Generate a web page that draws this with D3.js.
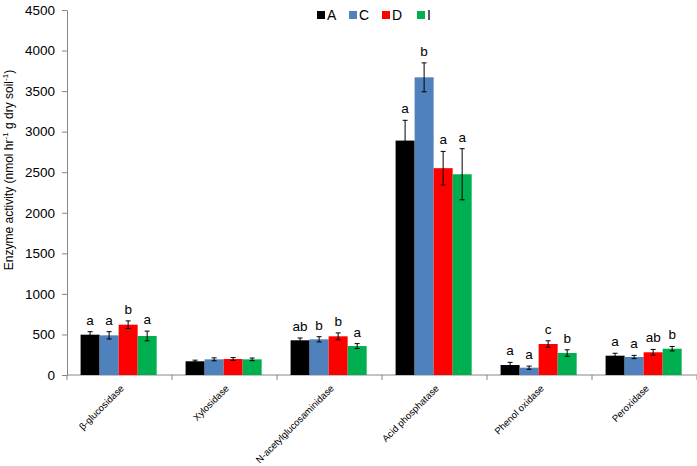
<!DOCTYPE html>
<html>
<head>
<meta charset="utf-8">
<script src="https://cdn.jsdelivr.net/npm/d3@7"></script>
<style>
  body { margin: 0; background: #fff; }
  text { font-family: "Liberation Sans", Arial, sans-serif; }
</style>
</head>
<body>
<div id="chart"></div>
<script>
// categories and treatment series
const enzymes = ["β-glucosidase", "Xylosidase", "N-acetylglucosaminidase", "Acid phosphatase", "Phenol oxidase", "Peroxidase"];
const treatments = ["A", "C", "D", "I"];
const colors = ["#000000", "#4f81bd", "#ff0000", "#00b050"];

// mean values per treatment (same order as enzymes)
const valA = [497, 169, 428, 2890, 123, 238];
const valC = [489, 193, 440, 3670, 90, 222];
const valD = [620, 197, 477, 2550, 382, 280];
const valI = [481, 193, 357, 2475, 271, 324];

// standard errors
const errA = [37, 14, 28, 250, 33, 30];
const errC = [45, 18, 32, 178, 20, 20];
const errD = [47, 18, 42, 207, 40, 35];
const errI = [60, 16, 30, 315, 40, 28];

// significance letters
const sigA = ["a", "", "ab", "a", "a", "a"];
const sigC = ["a", "", "b", "b", "a", "a"];
const sigD = ["b", "", "b", "a", "c", "ab"];
const sigI = ["a", "", "a", "a", "b", "b"];

const yTicks = [0, 500, 1000, 1500, 2000, 2500, 3000, 3500, 4000, 4500];

const width = 697, height = 466;
const margin = { top: 10, right: 0, bottom: 91, left: 67 };

const series = [
  { name: "A", vals: valA, errs: errA, sig: sigA },
  { name: "C", vals: valC, errs: errC, sig: sigC },
  { name: "D", vals: valD, errs: errD, sig: sigD },
  { name: "I", vals: valI, errs: errI, sig: sigI }
];

const svg = d3.select("#chart").append("svg")
  .attr("width", width)
  .attr("height", height);

const x0 = d3.scaleBand()
  .domain(enzymes)
  .range([margin.left, width - margin.right]);

const x1 = d3.scaleBand()
  .domain(treatments)
  .range([0, x0.bandwidth()])
  .paddingInner(0)
  .paddingOuter(0.76)
  .align(0.47);

const y = d3.scaleLinear()
  .domain([0, 4500])
  .range([height - margin.bottom, margin.top]);

const axisColor = "#868686";

// y axis
const yAxis = svg.append("g")
  .attr("transform", `translate(${margin.left},0)`)
  .call(d3.axisLeft(y).tickValues(yTicks).tickFormat(d3.format("d"))
    .tickSize(5).tickPadding(7).tickSizeOuter(0));
yAxis.select(".domain").attr("stroke", axisColor);
yAxis.selectAll(".tick line").attr("stroke", axisColor);
yAxis.selectAll(".tick text").attr("font-size", 13.5).attr("fill", "#000")
  .attr("font-family", "Liberation Sans, Arial, sans-serif");

// y axis title
const title = svg.append("text")
  .attr("transform", `translate(13,170) rotate(-90)`)
  .attr("text-anchor", "middle")
  .attr("font-size", 12)
  .attr("fill", "#000");
title.append("tspan").text("Enzyme activity (nmol hr");
title.append("tspan").attr("dy", -5).attr("font-size", 8).text("-1");
title.append("tspan").attr("dy", 5).text(" g dry soil");
title.append("tspan").attr("dy", -5).attr("font-size", 8).text("-1");
title.append("tspan").attr("dy", 5).text(")");

// x axis
const baseY = y(0);
svg.append("line")
  .attr("x1", margin.left).attr("x2", width - margin.right)
  .attr("y1", baseY).attr("y2", baseY)
  .attr("stroke", axisColor);
const boundaries = enzymes.map(d => x0(d)).concat([x0(enzymes[enzymes.length - 1]) + x0.bandwidth()]);
svg.selectAll(".xtick")
  .data(boundaries)
  .join("line")
  .attr("class", "xtick")
  .attr("x1", d => d).attr("x2", d => d)
  .attr("y1", baseY).attr("y2", baseY + 5)
  .attr("stroke", axisColor);

svg.selectAll(".xlabel")
  .data(enzymes)
  .join("text")
  .attr("class", "xlabel")
  .attr("text-anchor", "end")
  .attr("font-size", 9.5)
  .attr("fill", "#000")
  .attr("transform", d => `translate(${x0(d) + x0.bandwidth() / 2 + 5},${baseY + 14}) rotate(-45)`)
  .text(d => d);

series.forEach((s, si) => {
  const rows = enzymes.map((e, i) => ({ e, v: s.vals[i], err: s.errs[i], sig: s.sig[i], i }));

  // bars
  svg.selectAll(".bar-" + s.name)
    .data(rows)
    .join("rect")
    .attr("class", "bar-" + s.name)
    .attr("x", d => x0(d.e) + x1(s.name))
    .attr("y", d => y(d.v))
    .attr("width", x1.bandwidth())
    .attr("height", d => y(0) - y(d.v))
    .attr("fill", colors[si]);

  // error bars
  const eb = svg.selectAll(".err-" + s.name)
    .data(rows)
    .join("g")
    .attr("class", "err-" + s.name)
    .attr("stroke", "#000")
    .attr("stroke-width", 1);
  const cx = d => x0(d.e) + x1(s.name) + x1.bandwidth() / 2;
  eb.append("line")
    .attr("x1", cx).attr("x2", cx)
    .attr("y1", d => y(d.v + d.err)).attr("y2", d => y(d.v - d.err));
  eb.append("line")
    .attr("x1", d => cx(d) - 2.5).attr("x2", d => cx(d) + 2.5)
    .attr("y1", d => y(d.v + d.err)).attr("y2", d => y(d.v + d.err));
  eb.append("line")
    .attr("x1", d => cx(d) - 2.5).attr("x2", d => cx(d) + 2.5)
    .attr("y1", d => y(d.v - d.err)).attr("y2", d => y(d.v - d.err));

  // significance letters
  svg.selectAll(".sig-" + s.name)
    .data(rows.filter(d => d.sig !== ""))
    .join("text")
    .attr("class", "sig-" + s.name)
    .attr("x", cx)
    .attr("y", d => y(d.v + d.err) - 7)
    .attr("text-anchor", "middle")
    .attr("font-size", 13.5)
    .attr("fill", "#000")
    .text(d => d.sig);
});

// legend
const legendX = [317, 349, 382, 417];
const legend = svg.selectAll(".legend")
  .data(treatments)
  .join("g")
  .attr("class", "legend")
  .attr("transform", (d, i) => `translate(${legendX[i]},15)`);
legend.append("rect")
  .attr("x", 0).attr("y", -4)
  .attr("width", 8).attr("height", 8)
  .attr("fill", (d, i) => colors[i]);
legend.append("text")
  .attr("x", 10).attr("y", 5)
  .attr("font-size", 14)
  .attr("fill", "#000")
  .text(d => d);
</script>
</body>
</html>
